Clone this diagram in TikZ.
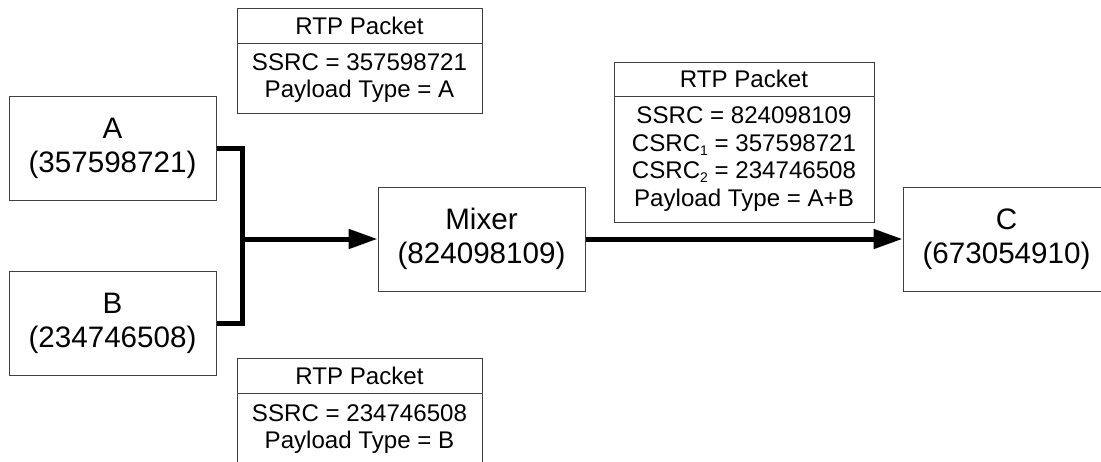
\documentclass[tikz,border=0pt]{standalone}
\usepackage{fontspec}
\setmainfont{Liberation Sans}
\usetikzlibrary{arrows.meta}
\newcommand{\subnum}[1]{\raisebox{-4pt}{\fontsize{14}{14}\selectfont #1}}
\tikzset{
  box/.style={draw=black!75, line width=1pt, inner sep=0pt, align=center,
    minimum width=207pt, minimum height=104pt,
    font=\fontsize{29.6}{34}\selectfont},
  pkt/.style={draw=black!75, line width=1pt, inner sep=0pt, align=center,
    font=\fontsize{24.1}{27.7}\selectfont},
  conn/.style={line width=5pt, line join=miter},
  arr/.style={conn, -{Triangle[length=29pt,width=19pt]}}
}
\begin{document}
\begin{tikzpicture}[x=1pt,y=-1pt]
\useasboundingbox (0,0) rectangle (1101,461);
\fill[white] (0,0) rectangle (1101,461);
% main boxes
\node[box] (A) at (112.5,148) {A\\(357598721)};
\node[box] (B) at (112.5,323.5) {B\\(234746508)};
\node[box] (M) at (481.5,239) {Mixer\\(824098109)};
\node[box] (C) at (1006.5,239) {C\\(673054910)};
% packet A
\node[pkt, minimum width=245pt, minimum height=35pt] (PAh) at (359.5,25.5) {RTP Packet};
\node[pkt, minimum width=245pt, minimum height=70pt] (PAb) at (359.5,78) {SSRC = 357598721\\Payload Type = A};
% packet B
\node[pkt, minimum width=245pt, minimum height=35pt] (PBh) at (359.5,375.5) {RTP Packet};
\node[pkt, minimum width=245pt, minimum height=72pt] (PBb) at (359.5,429) {SSRC = 234746508\\Payload Type = B};
% packet Mixer
\node[pkt, minimum width=260pt, minimum height=34pt] (PMh) at (744,79) {RTP Packet};
\node[pkt, minimum width=260pt, minimum height=126pt] (PMb) at (744,159) {SSRC = 824098109\\CSRC\subnum{1} = 357598721\\CSRC\subnum{2} = 234746508\\Payload Type = A+B};
% connectors
\coordinate (J) at (242,239);
\draw[conn] (A.east) -| (J) |- (B.east);
\draw[arr] (J) -- (M.west);
\draw[arr] (M.east) -- (C.west);
\end{tikzpicture}
\end{document}
